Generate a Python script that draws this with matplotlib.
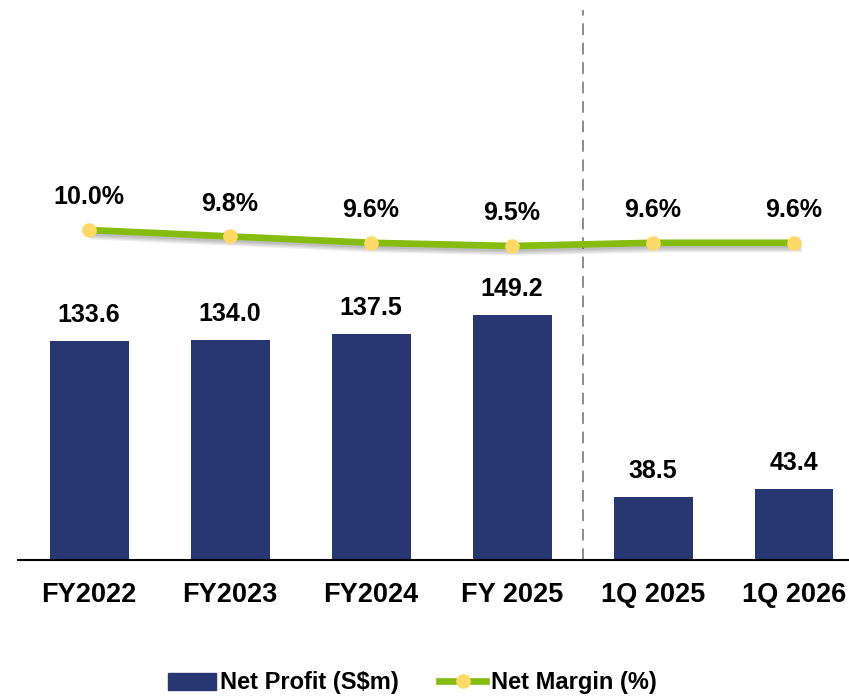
import matplotlib
matplotlib.use('Agg')
import matplotlib.pyplot as plt
import matplotlib.patheffects as pe
from matplotlib.lines import Line2D
from matplotlib.patches import Patch

# ─── DATOS ────────────────────────────────────────────────────
periodos = ["FY2022", "FY2023", "FY2024", "FY 2025", "1Q 2025", "1Q 2026"]
net_profit = [133.6, 134.0, 137.5, 149.2, 38.5, 43.4]
net_margin = [10.0, 9.8, 9.6, 9.5, 9.6, 9.6]

NAVY = "#283771"
GREEN = "#86BC10"
YELLOW = "#FFD966"

plt.rcParams['font.family'] = ['Liberation Sans', 'DejaVu Sans']
plt.rcParams['font.weight'] = 'bold'

fig = plt.figure(figsize=(8.49, 6.97), dpi=100)
# ejes en pixeles: izquierda 18, base 560, arriba 10
ax = fig.add_axes([18 / 849, 137 / 697, 1 - 18 / 849, 550 / 697])

x = list(range(len(periodos)))
ax.bar(x, net_profit, width=0.56, color=NAVY, zorder=2)
for xi, v in zip(x, net_profit):
    ax.annotate(f"{v:.1f}", (xi, v), xytext=(0, 10), textcoords="offset points",
                ha="center", va="bottom", fontsize=18, fontweight="bold")

ax.set_xlim(-0.504, 5.39)
ax.set_ylim(0, 335)
ax.set_yticks([])
for s in ["top", "right", "left"]:
    ax.spines[s].set_visible(False)
ax.spines["bottom"].set_linewidth(1.5)
ax.set_xticks(x)
ax.set_xticklabels(periodos, fontsize=19.5, fontweight="bold")
ax.tick_params(axis="x", length=0, pad=16)

# línea divisoria
ax.axvline(3.5, color="#8c8c8c", lw=1.4, ls=(0, (6, 4)), zorder=1)

# margen en eje secundario
ax2 = ax.twinx()
ax2.set_ylim(-0.3125, 16.875)
ax2.axis("off")
sombra = [pe.SimpleLineShadow(offset=(o, -o - 1), shadow_color="black", alpha=0.07)
          for o in (0.5, 1.5, 2.5, 3.5)]
ax2.plot(x, net_margin, color=GREEN, lw=4.8, zorder=3,
         path_effects=sombra + [pe.Normal()])
ax2.plot(x, net_margin, ls="none", marker="o", ms=9.5,
         mfc=YELLOW, mec=YELLOW, zorder=4)
for xi, v in zip(x, net_margin):
    ax2.annotate(f"{v:.1f}%", (xi, v), xytext=(0, 15), textcoords="offset points",
                 ha="center", va="bottom", fontsize=18, fontweight="bold")

handles = [Patch(color=NAVY, label="Net Profit (S$m)"),
           Line2D([], [], color=GREEN, lw=4.8, marker="o", ms=9.5,
                  mfc=YELLOW, mec=YELLOW, label="Net Margin (%)")]
fig.legend(handles=handles, loc="center", bbox_to_anchor=(0.486, 1 - 683 / 697),
           ncol=2, frameon=False, prop={"size": 17, "weight": "bold"},
           handlelength=2.0, handleheight=0.7, handletextpad=0.2, columnspacing=1.7)

fig.savefig("out.png", dpi=100)
plt.close()
